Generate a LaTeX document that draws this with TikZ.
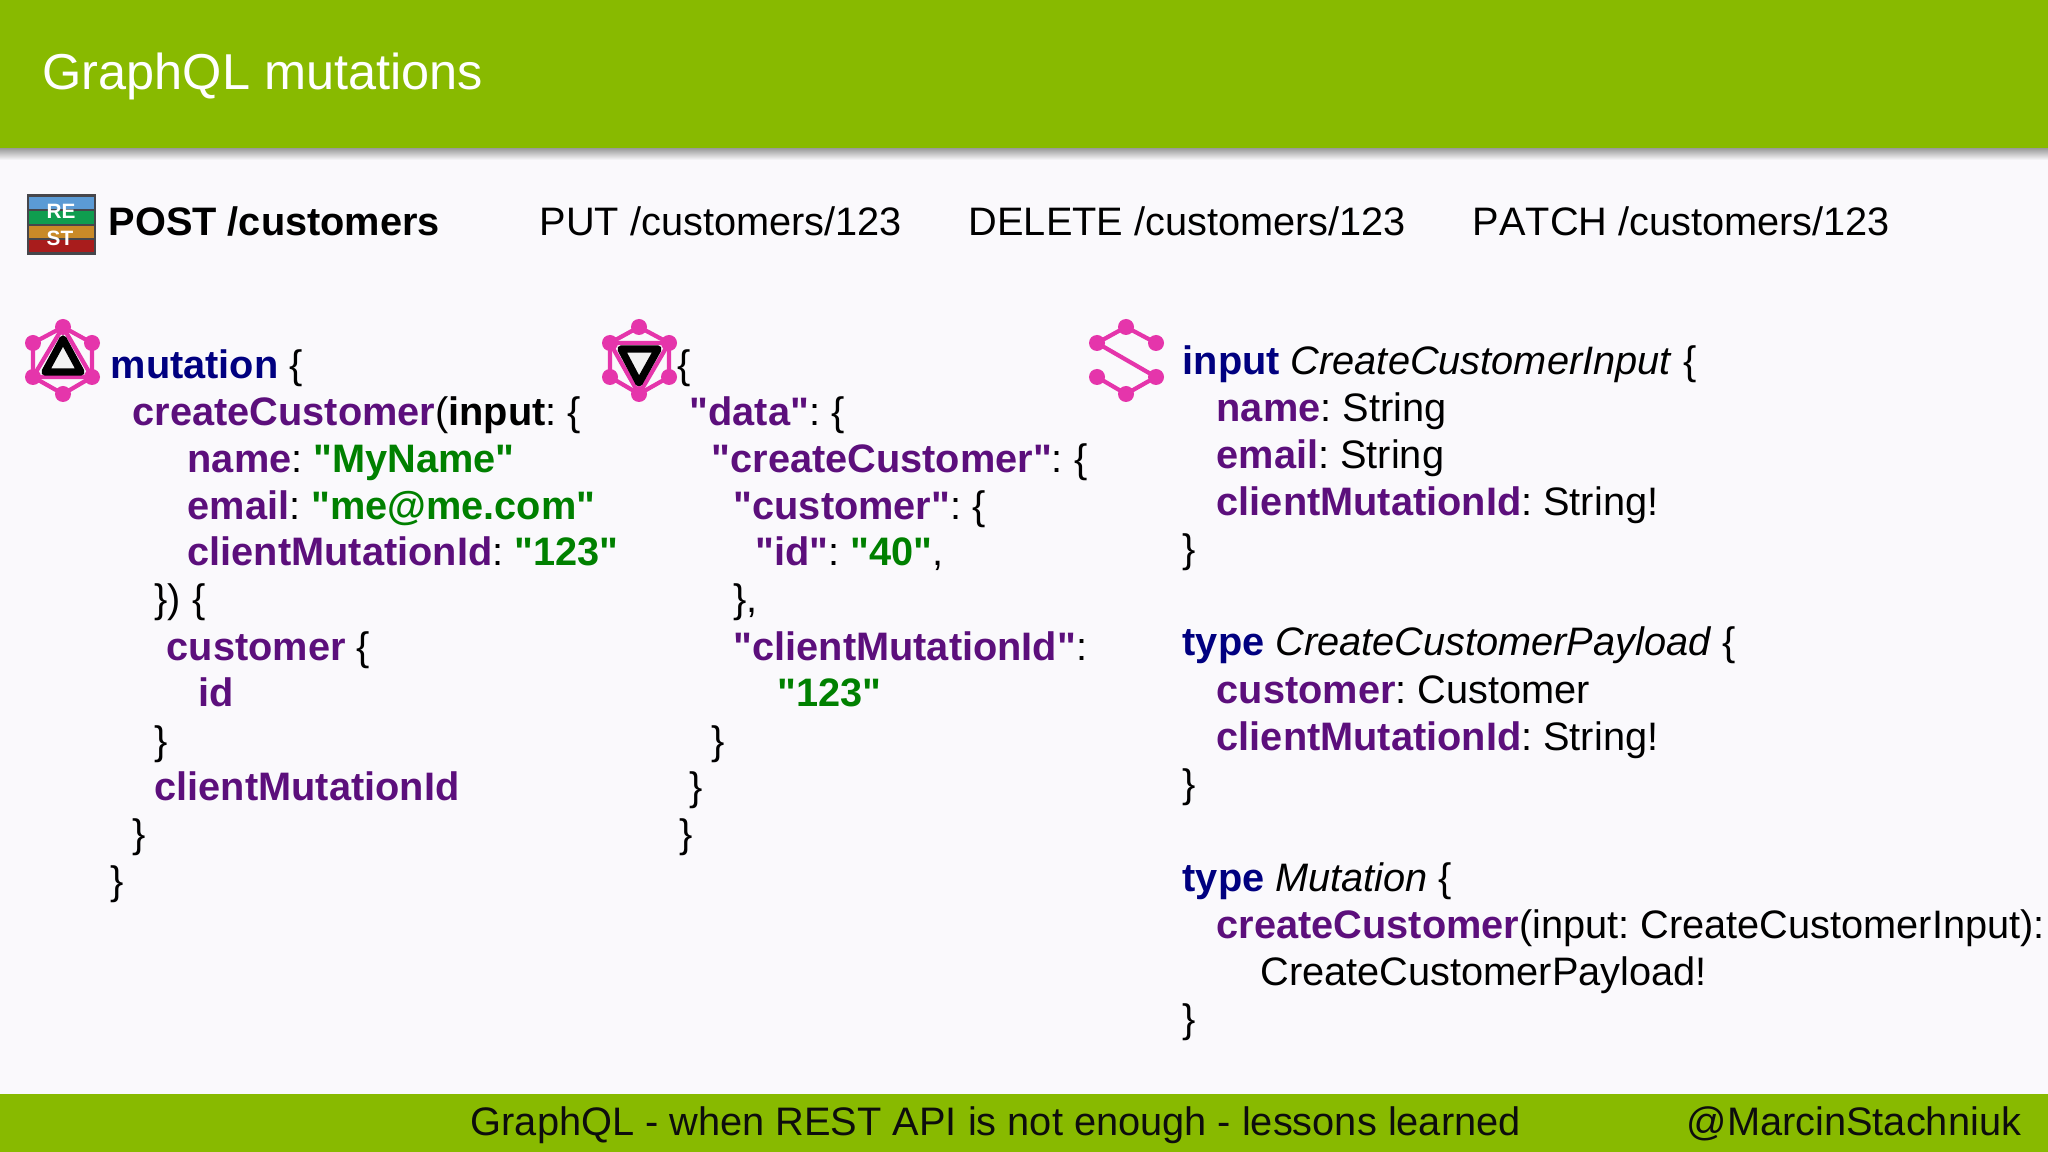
\documentclass[tikz,border=0pt]{standalone}
\usepackage{fontspec}
\usepackage{xcolor}
\usepackage{tikz}
\setmainfont[Ligatures=TeXOff]{Liberation Sans}
\frenchspacing
\definecolor{slidegreen}{RGB}{136,186,0}
\definecolor{slidebg}{RGB}{250,249,252}
\definecolor{logopink}{RGB}{229,53,171}
\definecolor{keyblue}{RGB}{0,0,128}
\definecolor{fieldpurple}{RGB}{92,15,124}
\definecolor{stringgreen}{RGB}{0,128,0}
\definecolor{restblue}{RGB}{91,155,213}
\definecolor{restgreen}{RGB}{15,157,79}
\definecolor{restorange}{RGB}{201,138,40}
\definecolor{restred}{RGB}{168,28,28}
\definecolor{restframe}{RGB}{70,70,75}
\newcommand{\kw}[1]{{\bfseries\color{keyblue}#1}}
\newcommand{\fld}[1]{{\bfseries\color{fieldpurple}#1}}
\newcommand{\strg}[1]{{\bfseries\color{stringgreen}#1}}

\begin{document}
\begin{tikzpicture}[x=0.01cm, y=-0.01cm]
    \tikzstyle{code} = [anchor=base west, inner sep=0pt, font=\fontsize{11.3pt}{13pt}\selectfont]
    \tikzstyle{title} = [code, text=white, font=\fontsize{14.35pt}{17pt}\selectfont]
    \tikzstyle{footer} = [code, text=black!95, font=\fontsize{11.31pt}{13pt}\selectfont]
    \tikzstyle{restlabel} = [inner sep=0pt, text=white, font=\fontsize{5.9pt}{6pt}\bfseries\selectfont]
    \tikzstyle{edge} = [draw=logopink, line width=1.2pt]
    \tikzstyle{dot} = [fill=logopink, draw=none]
    \tikzstyle{tri} = [draw=black, fill=white!95!black, line width=2.1pt, line join=round]

    % Slide background
    \fill [slidebg] (0,0) rectangle (2048,1152);
    \shade [top color=black!40, bottom color=slidebg] (0,148) rectangle (2048,160);
    \fill [slidegreen] (0,0) rectangle (2048,148);
    \fill [slidegreen] (0,1094) rectangle (2048,1152);
    \node [title] (slide_title) at (42,90) {GraphQL mutations};

    % REST icon
    \fill [restframe] (27,194) rectangle (96,255);
    \fill [restblue] (29,197) rectangle (94,209);
    \fill [restgreen] (29,211) rectangle (94,224);
    \fill [restorange] (29,226) rectangle (94,238);
    \fill [restred] (29,240) rectangle (94,252);
    \node [restlabel] (rest_re) at (61,211) {RE};
    \node [restlabel] (rest_st) at (60,238) {ST};

    % REST calls
    \node [code] (post_call) at (108,236) {\bfseries POST /customers};
    \node [code] (put_call) at (539,236) {PUT /customers/123};
    \node [code] (delete_call) at (968,236) {DELETE /customers/123};
    \node [code] (patch_call) at (1472,236) {\addfontfeature{Kerning=Off}PATCH /customers/123};

    % Mutation logo
    \draw [edge] (63,327) -- (92,343) -- (92,377) -- (63,394) -- (33,377) -- (33,343) -- cycle;
    \draw [edge] (63,327) -- (92,377) -- (33,377) -- cycle;
    \draw [tri] (63,339) -- (81,372) -- (45,372) -- cycle;
    \foreach \px/\py in {63/327, 92/343, 92/377, 63/394, 33/377, 33/343}
        \fill [dot] (\px,\py) circle (8);

    % Response logo
    \draw [edge] (639,327) -- (669,343) -- (669,377) -- (639,394) -- (610,377) -- (610,343) -- cycle;
    \draw [edge] (610,343) -- (669,343) -- (639,394) -- cycle;
    \draw [tri] (621,349) -- (658,349) -- (639,383) -- cycle;
    \foreach \px/\py in {639/327, 669/343, 669/377, 639/394, 610/377, 610/343}
        \fill [dot] (\px,\py) circle (8);

    % Schema logo
    \draw [edge] (1156,343) -- (1126,327) -- (1097,343) -- (1156,377) -- (1126,394) -- (1097,377);
    \foreach \px/\py in {1126/327, 1156/343, 1156/377, 1126/394, 1097/377, 1097/343}
        \fill [dot] (\px,\py) circle (8);

    % Request
    \node [code] (req_1) at (110,379) {\kw{mutation} \{};
    \node [code] (req_2) at (132,426) {\fld{createCustomer}(\textbf{input}: \{};
    \node [code] (req_3) at (187,473) {\fld{name}: \strg{"MyName"}};
    \node [code] (req_4) at (187,520) {\fld{email}: \strg{"me@me.com"}};
    \node [code] (req_5) at (187,566) {\fld{clientMutationId}: \strg{"123"}};
    \node [code] (req_6) at (154,613) {\}) \{};
    \node [code] (req_7) at (166,660) {\fld{customer} \{};
    \node [code] (req_8) at (198,706) {\fld{id}};
    \node [code] (req_9) at (154,754) {\}};
    \node [code] (req_10) at (154,800) {\fld{clientMutationId}};
    \node [code] (req_11) at (132,847) {\}};
    \node [code] (req_12) at (110,894) {\}};

    % Response
    \node [code] (res_1) at (677,379) {\{};
    \node [code] (res_2) at (689,426) {\fld{"data"}: \{};
    \node [code] (res_3) at (711,473) {\fld{"createCustomer"}: \{};
    \node [code] (res_4) at (733,520) {\fld{"customer"}: \{};
    \node [code] (res_5) at (755,566) {\fld{"id"}: \strg{"40"},};
    \node [code] (res_6) at (733,613) {\},};
    \node [code] (res_7) at (733,660) {\fld{"clientMutationId"}:};
    \node [code] (res_8) at (777,706) {\strg{"123"}};
    \node [code] (res_9) at (711,754) {\}};
    \node [code] (res_10) at (689,800) {\}};
    \node [code] (res_11) at (679,847) {\}};

    % Schema
    \node [code] (schema_1) at (1182,375) {\kw{input} \textit{CreateCustomerInput} \{};
    \node [code] (schema_2) at (1216,422) {\fld{name}: String};
    \node [code] (schema_3) at (1216,469) {\fld{email}: String};
    \node [code] (schema_4) at (1216,515) {\fld{clientMutationId}: String!};
    \node [code] (schema_5) at (1182,563) {\}};
    \node [code] (schema_6) at (1182,656) {\kw{type} \textit{CreateCustomerPayload} \{};
    \node [code] (schema_7) at (1216,703) {\fld{customer}: Customer};
    \node [code] (schema_8) at (1216,750) {\fld{clientMutationId}: String!};
    \node [code] (schema_9) at (1182,797) {\}};
    \node [code] (schema_10) at (1182,891) {\kw{type} \textit{Mutation} \{};
    \node [code] (schema_11) at (1216,938) {\fld{createCustomer}(input: CreateCustomerInput):};
    \node [code] (schema_12) at (1260,985) {CreateCustomerPayload!};
    \node [code] (schema_13) at (1182,1032) {\}};

    % Footer
    \node [footer] (footer_talk) at (470,1135) {GraphQL - when REST API is not enough - lessons learned};
    \node [footer] (footer_handle) at (1686,1135) {@MarcinStachniuk};
\end{tikzpicture}
\end{document}
